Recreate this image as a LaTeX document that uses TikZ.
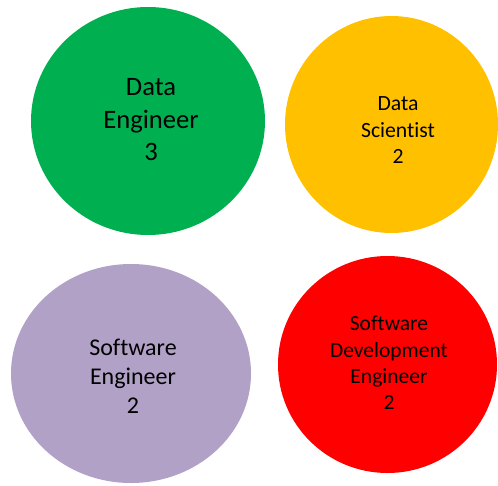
\documentclass[tikz,border=0pt]{standalone}
\usepackage{xcolor}
\usepackage{fontspec}
\setmainfont{Carlito}[Ligatures=NoCommon]
\usepackage{tikz}
\usetikzlibrary{calc,shapes.geometric}

\definecolor{deGreen}{HTML}{00B050}
\definecolor{dsYellow}{HTML}{FFC000}
\definecolor{sePurple}{HTML}{B2A1C7}
\definecolor{sdeRed}{HTML}{FF0000}

\begin{document}
\begin{tikzpicture}[x=1pt,y=-1pt,
      role/.style={
            ellipse, draw=none,
            inner sep=0pt
        },
      roletext/.style={
            align=center, inner sep=0pt, text=black
        }
      ]
    \useasboundingbox (0,0) rectangle (498,485);

    \node[role,fill=deGreen,minimum width=234pt,minimum height=228pt] (de) at (148,121) {};
    \node[role,fill=dsYellow,minimum width=213pt,minimum height=217pt] (ds) at (391.5,124.5) {};
    \node[role,fill=sePurple,minimum width=240pt,minimum height=219pt] (se) at (131,373.5) {};
    \node[role,fill=sdeRed,minimum width=219pt,minimum height=217pt] (sde) at (387.5,364.5) {};

    \node[roletext,font=\fontsize{26.6}{32.5}\selectfont] (de-txt) at ($(de)+(3,-1)$) {Data\\Engineer\\3};
    \node[roletext,font=\fontsize{21.7}{26.5}\selectfont] (ds-txt) at ($(ds)+(6.5,6)$) {Data\\Scientist\\2};
    \node[roletext,font=\fontsize{24}{29}\selectfont] (se-txt) at ($(se)+(2,2.5)$) {Software\\Engineer\\2};
    \node[roletext,font=\fontsize{21.5}{26.3}\selectfont] (sde-txt) at ($(sde)+(1.5,-1.5)$) {Software\\Development\\Engineer\\2};
  \end{tikzpicture}
\end{document}
